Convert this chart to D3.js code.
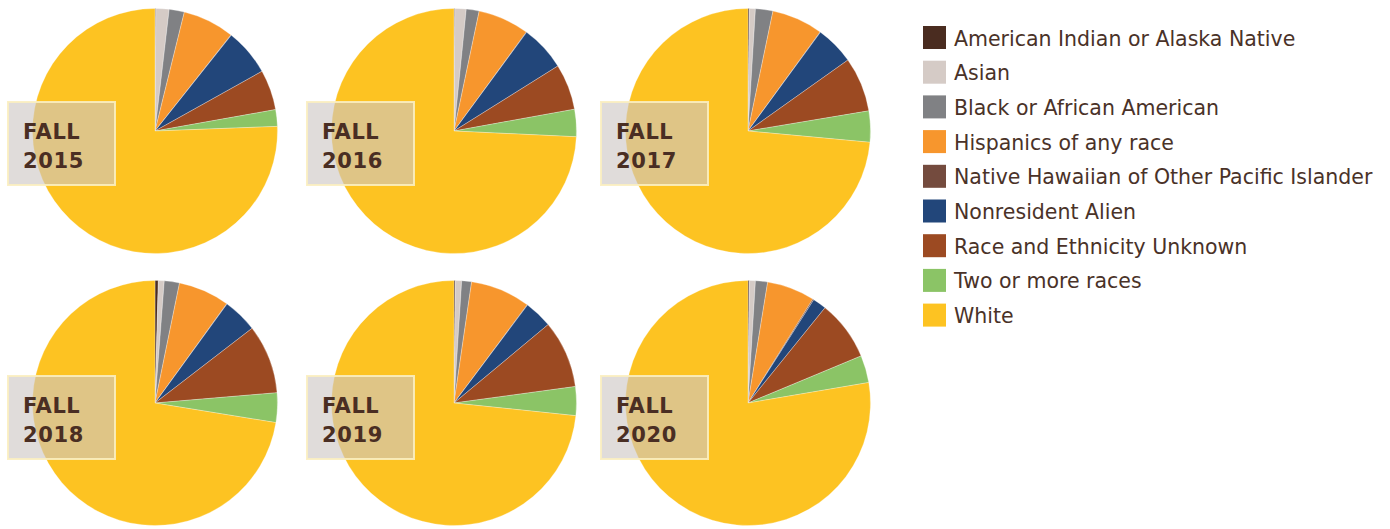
<!DOCTYPE html>
<html><head><meta charset="utf-8">
<script src="https://cdn.jsdelivr.net/npm/d3@7"></script>
<style>body{margin:0;background:#fff}</style>
</head><body>
<svg id="c" width="1390" height="529"></svg>
<script>
const categories = ["American Indian or Alaska Native","Asian","Black or African American","Hispanics of any race","Native Hawaiian of Other Pacific Islander","Nonresident Alien","Race and Ethnicity Unknown","Two or more races","White"];
const colors = ["#4a2c20","#d5cbc6","#808184","#f7962d","#744b3e","#22467a","#9c4a22","#8bc466","#fdc322"];
const years = ["2015","2016","2017","2018","2019","2020"];
const fall2015 = [0.1,1.75,2.0,6.8,0.05,6.2,5.3,2.2,75.6];
const fall2016 = [0.1,1.5,1.7,6.75,0.05,6.0,6.05,3.6,74.25];
const fall2017 = [0.17,0.8,2.3,6.75,0.05,5.1,7.2,4.1,73.53];
const fall2018 = [0.43,0.78,2.0,6.75,0.05,4.55,9.1,3.9,72.44];
const fall2019 = [0.17,0.83,1.3,7.9,0.05,3.7,8.9,3.8,73.35];
const fall2020 = [0.17,0.8,1.6,6.3,0.15,1.8,7.9,3.6,77.68];
const series = [fall2015,fall2016,fall2017,fall2018,fall2019,fall2020];

const svg = d3.select("#c");
const color = d3.scaleOrdinal().domain(categories).range(colors);
const pie = d3.pie().sort(null).value(d=>d.v);
const R = 122.5;
const arc = d3.arc().innerRadius(0).outerRadius(R);
const cx = d3.scaleOrdinal().domain([0,1,2]).range([155,454,748]);
const cy = d3.scaleOrdinal().domain([0,1]).range([131,403]);

years.forEach((y,i)=>{
  const g = svg.append("g").attr("transform",`translate(${cx(i%3)},${cy(Math.floor(i/3))})`);
  const data = series[i].map((v,k)=>({c:categories[k],v}));
  g.selectAll("path").data(pie(data)).join("path")
    .attr("d",arc).attr("fill",d=>color(d.data.c))
    .attr("stroke","#fff").attr("stroke-width",0.4).attr("stroke-opacity",0.7);
  const lb = g.append("g").attr("transform",`translate(-147,${i<3?-29:-27})`);
  lb.append("rect").attr("x",0).attr("y",0).attr("width",107).attr("height",83)
    .attr("fill","rgb(205,198,195)").attr("fill-opacity",0.62)
    .attr("stroke","#fbeec0").attr("stroke-width",2).attr("stroke-opacity",0.9);
  lb.append("text").attr("x",15).attr("y",37).text("FALL")
    .attr("font-family","'DejaVu Sans', sans-serif").attr("font-weight","bold")
    .attr("font-size",21).attr("letter-spacing",0.6).attr("fill","#4a2e23");
  lb.append("text").attr("x",15).attr("y",66).text(y)
    .attr("font-family","'DejaVu Sans', sans-serif").attr("font-weight","bold")
    .attr("font-size",21).attr("letter-spacing",0.6).attr("fill","#4a2e23");
});

const leg = svg.append("g").attr("transform","translate(923,26)");
const rows = leg.selectAll("g").data(categories).join("g")
  .attr("transform",(d,i)=>`translate(0,${i*34.7})`);
rows.append("rect").attr("width",23).attr("height",23).attr("fill",d=>color(d));
rows.append("text").attr("x",31).attr("y",19.5).text(d=>d)
  .attr("font-family","'DejaVu Sans', sans-serif").attr("font-size",20.5)
  .attr("fill","#4a3228");
</script>
</body></html>
